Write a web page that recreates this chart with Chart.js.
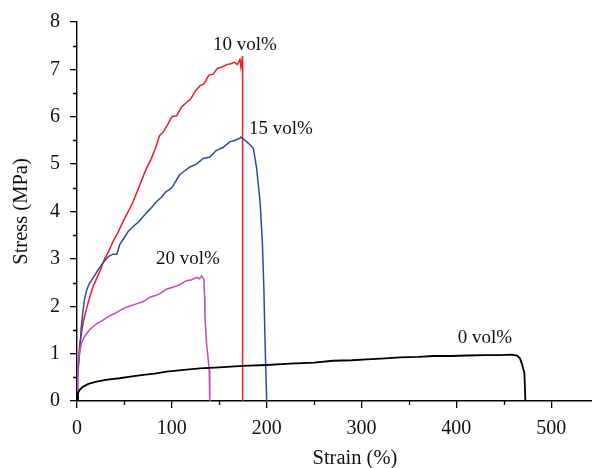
<!DOCTYPE html>
<html>
<head>
<meta charset="utf-8">
<script src="https://cdn.jsdelivr.net/npm/chart.js@4/dist/chart.umd.min.js"></script>
<style>
html,body{margin:0;padding:0;background:#fff;}
#wrap{width:592px;height:468px;}
</style>
</head>
<body>
<div id="wrap"><canvas id="stressChart" width="592" height="468"></canvas></div>
<script>
/* DATA */

const strain10=[0,0.5,1.5,3,4.6,7,10,13.4,17,21,25,29,33,38,43,48.6,54,59,64,69,73,78,83,87,91,96,100,105,110,115.5,120,125,129.6,134,139,143.6,148,153,157.8,162,166,169,171.8,172.8,174.6,174.6];
const stress10=[0,0.45,0.85,1.2,1.42,1.7,1.95,2.19,2.42,2.6,2.78,3.0,3.14,3.37,3.55,3.79,4.0,4.2,4.45,4.7,4.9,5.1,5.35,5.6,5.68,5.85,6.0,6.02,6.2,6.3,6.38,6.55,6.65,6.7,6.88,6.9,7.02,7.05,7.1,7.12,7.15,7.1,7.21,7.05,7.28,0];

const strain15=[0,0.3,1,2,2.9,4.5,6.3,8,10,13,17,22,27.5,33,38,42,45,49,54,60,65,70,77,84,89,94,100,108,113,119,126,133,140,147,154,161,166,171.8,172.5,176,179,183,186,189.4,191,193,195.4,197,198,199,200];
const stress15=[0,0.3,0.55,0.82,1.07,1.55,1.91,2.15,2.33,2.48,2.6,2.76,2.92,3.05,3.1,3.1,3.3,3.42,3.58,3.7,3.78,3.9,4.05,4.21,4.3,4.42,4.5,4.77,4.85,4.94,5.0,5.12,5.15,5.29,5.35,5.47,5.5,5.55,5.57,5.52,5.47,5.4,5.33,4.91,4.6,4.21,3.37,2.4,1.49,0.7,0];

const strain20=[0,0.3,1,2.5,4.6,7,10,14,20.5,27,34.5,41,48.6,55,62.7,70,76.8,82,87,94.4,101,108,115.5,121,126,129,131.4,133.8,134.5,134.9,136.6,138,139.4,140];
const stress20=[0,0.4,0.72,1.0,1.21,1.33,1.42,1.52,1.63,1.7,1.8,1.86,1.95,2.0,2.05,2.1,2.19,2.22,2.26,2.36,2.4,2.45,2.54,2.56,2.61,2.58,2.64,2.57,2.2,1.77,1.21,0.95,0.65,0];

const strain0=[0,1,3,6.3,12,20.5,32,45,58,70,82,94.4,110,129.6,150,175,200,224.6,250,270,290,305.6,325,340.8,360,375.9,395,411,430,446,458,464,467,469,471.7,472.8];
const stress0=[0,0.17,0.24,0.3,0.36,0.41,0.45,0.48,0.52,0.55,0.58,0.62,0.65,0.69,0.71,0.74,0.76,0.79,0.81,0.85,0.86,0.88,0.9,0.92,0.93,0.95,0.95,0.96,0.97,0.97,0.98,0.96,0.9,0.79,0.59,0];

const seriesLabels=["10 vol%","15 vol%","20 vol%","0 vol%"];
const labelStrain=[177,215,117,430];
const labelStress=[7.52,5.74,3.0,1.33];

const xTicks=[0,100,200,300,400,500];
const yTicks=[0,1,2,3,4,5,6,7,8];
const xTitle="Strain (%)";
const yTitle="Stress (MPa)";

/* HELPERS */

const pts=(xs,ys)=>xs.map((x,i)=>({x,y:ys[i]}));
const FONT="'Liberation Serif','DejaVu Serif',serif";

function line(label,xs,ys,color,w){
return {
label,
data:pts(xs,ys),
borderColor:color,
borderWidth:w,
pointRadius:0,
tension:0,
fill:false
};
}

/* minor ticks, curve labels, x title */

const extras={
id:"extras",
afterDraw(chart){
const ctx=chart.ctx;
const xs=chart.scales.x, ys=chart.scales.y;
const a=chart.chartArea;
ctx.save();
ctx.strokeStyle="#000";
ctx.lineWidth=1.3;
ctx.beginPath();
for(let v=50;v<=xs.max;v+=100){
const px=Math.round(xs.getPixelForValue(v))+0.5;
ctx.moveTo(px,a.bottom);
ctx.lineTo(px,a.bottom+4);
}
for(let v=0.5;v<ys.max;v+=1){
const py=Math.round(ys.getPixelForValue(v))+0.5;
ctx.moveTo(a.left,py);
ctx.lineTo(a.left-4,py);
}
ctx.stroke();

ctx.fillStyle="#111";
ctx.font="19px "+FONT;
ctx.textAlign="center";
ctx.textBaseline="middle";
seriesLabels.forEach((t,i)=>{
ctx.fillText(t,xs.getPixelForValue(labelStrain[i]),ys.getPixelForValue(labelStress[i]));
});

// axis title sits off the visible axis centre (original axis ran past the crop)
ctx.font="20.5px "+FONT;
ctx.fillText(xTitle,xs.getPixelForValue(293),a.bottom+58);
ctx.restore();
}
};

/* CHART */

new Chart(document.getElementById("stressChart"),{
type:"line",
data:{
datasets:[
line(seriesLabels[3],strain0,stress0,"#000000",1.8),
line(seriesLabels[2],strain20,stress20,"#c04cb4",1.5),
line(seriesLabels[1],strain15,stress15,"#2a4ca4",1.5),
line(seriesLabels[0],strain10,stress10,"#ec1c24",1.5)
]
},
options:{
responsive:false,
animation:false,
layout:{padding:{top:19,right:0,left:0,bottom:0}},
plugins:{legend:{display:false},tooltip:{enabled:false}},
scales:{
x:{
type:"linear",
min:0,max:543,
afterBuildTicks:s=>{s.ticks=xTicks.map(v=>({value:v}));},
afterFit:s=>{s.height=67;},
border:{display:true,color:"#000",width:1.4},
grid:{drawOnChartArea:false,drawTicks:true,tickLength:7,color:"#000",lineWidth:1.3},
ticks:{color:"#111",font:{family:FONT,size:20},padding:9,maxRotation:0},
title:{display:false}
},
y:{
type:"linear",
min:0,max:8,
afterBuildTicks:s=>{s.ticks=yTicks.map(v=>({value:v}));},
afterFit:s=>{s.width=77;},
border:{display:true,color:"#000",width:1.4},
grid:{drawOnChartArea:false,drawTicks:true,tickLength:7,color:"#000",lineWidth:1.3},
ticks:{color:"#111",font:{family:FONT,size:20},padding:10},
title:{display:true,text:yTitle,color:"#111",font:{family:FONT,size:20.5},padding:{top:9,bottom:4}}
}
}
},
plugins:[extras]
});
</script>
</body>
</html>
